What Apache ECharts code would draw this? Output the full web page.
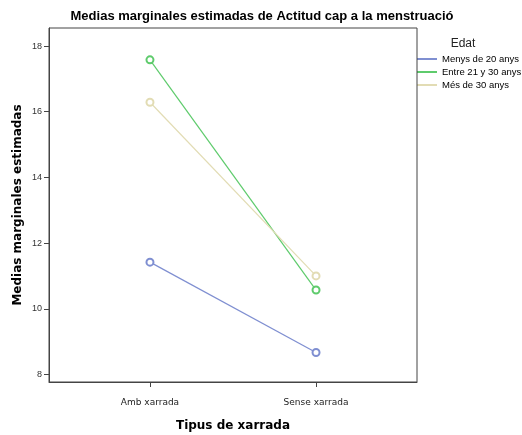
<!DOCTYPE html>
<html><head><meta charset="utf-8">
<script src="https://cdn.jsdelivr.net/npm/echarts@6/dist/echarts.min.js"></script>
<style>html,body{margin:0;padding:0;background:#fff}#c{width:522px;height:435px}</style>
</head><body><div id="c"></div>
<script>
const categories = ['Amb xarrada', 'Sense xarrada'];
const seriesNames = ['Menys de 20 anys', 'Entre 21 y 30 anys', 'Més de 30 anys'];
const menys20 = [11.42, 8.67];
const entre21_30 = [17.58, 10.57];
const mes30 = [16.29, 11.0];
const yTicks = [8, 10, 12, 14, 16, 18];
const colors = ['#7f8fd1', '#5ecb6c', '#e2dcb4'];
const values = [menys20, entre21_30, mes30];

const chart = echarts.init(document.getElementById('c'));
chart.setOption({
  animation: false,
  title: [
    {text: 'Medias marginales estimadas de Actitud cap a la menstruació', left: 257, top: 5, textAlign: 'center',
     textStyle: {fontFamily: 'Liberation Sans', fontWeight: 'bold', fontSize: 13, color: '#000'}},
    {text: 'Edat', left: 458, top: 33, textAlign: 'center',
     textStyle: {fontFamily: 'Liberation Sans', fontWeight: 'normal', fontSize: 12, color: '#222'}}
  ],
  legend: {
    orient: 'vertical', left: 417, top: 54, padding: 0, itemGap: 3, itemWidth: 20, itemHeight: 2, icon: 'rect',
    textStyle: {fontFamily: 'Liberation Sans', fontSize: 9.5, color: '#000'},
    data: seriesNames
  },
  grid: {left: 49, top: 28, width: 368, height: 354, containLabel: false, outerBoundsMode: 'none'},
  xAxis: {
    type: 'value', min: -0.608, max: 1.608,
    name: 'Tipus de xarrada', nameLocation: 'middle', nameGap: 38, nameMoveOverlap: false,
    nameTextStyle: {fontFamily: 'DejaVu Sans', fontWeight: 'bold', fontSize: 12, color: '#000'},
    axisLine: {show: true, onZero: false, lineStyle: {color: '#444', width: 1}},
    axisTick: {show: true, customValues: [0, 1], length: 5, lineStyle: {color: '#444'}},
    axisLabel: {customValues: [0, 1], formatter: v => categories[Math.round(v)] || '', margin: 16,
      fontFamily: 'DejaVu Sans', fontSize: 9, color: '#222'},
    splitLine: {show: false}
  },
  yAxis: {
    type: 'value', min: 7.77, max: 18.55,
    name: 'Medias marginales estimadas', nameLocation: 'middle', nameGap: 25, nameMoveOverlap: false,
    nameTextStyle: {fontFamily: 'DejaVu Sans', fontWeight: 'bold', fontSize: 12, color: '#000'},
    axisLine: {show: true, onZero: false, lineStyle: {color: '#444', width: 1}},
    axisTick: {show: true, customValues: yTicks, length: 5, lineStyle: {color: '#444'}},
    axisLabel: {customValues: yTicks, margin: 7, fontFamily: 'Liberation Sans', fontSize: 9, color: '#333'},
    splitLine: {show: false}
  },
  graphic: [{type: 'rect', shape: {x: 49, y: 28, width: 368, height: 354}, style: {fill: 'none', stroke: '#444', lineWidth: 1}, silent: true, z: 10}],
  series: seriesNames.map((n, i) => ({
    name: n, type: 'line',
    data: values[i].map((v, j) => [j, v]),
    symbol: 'emptyCircle', symbolSize: 7,
    itemStyle: {color: colors[i], borderWidth: 1},
    lineStyle: {color: colors[i], width: 1.2},
    color: colors[i]
  }))
});
</script></body></html>
